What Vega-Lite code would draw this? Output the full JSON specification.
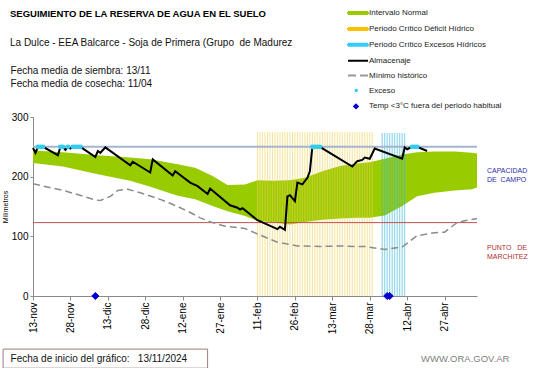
{
  "$schema": "https://vega.github.io/schema/vega-lite/v6.json",
  "width": 444,
  "height": 179,
  "autosize": {"type": "none"},
  "padding": {"left": 33, "top": 117, "right": 64, "bottom": 72},
  "background": "white",
  "config": {"view": {"stroke": null}, "font": "Liberation Sans"},
  "title": {
    "text": "SEGUIMIENTO DE LA RESERVA DE AGUA EN EL SUELO",
    "subtitle": "La Dulce - EEA Balcarce - Soja de Primera (Grupo\u00a0\u00a0de Madurez",
    "anchor": "start",
    "frame": "group",
    "dx": -23,
    "dy": 65,
    "offset": 24,
    "font": "Liberation Sans",
    "fontSize": 9.5,
    "fontWeight": "bold",
    "color": "#000000",
    "subtitleFont": "Liberation Sans",
    "subtitleFontSize": 10,
    "subtitleColor": "#111111",
    "subtitleLineHeight": 13,
    "subtitlePadding": 20
  },
  "datasets": {
    "banda": [
      {"fecha": "2024-11-13", "sup": 244, "inf": 223},
      {"fecha": "2024-11-25", "sup": 241, "inf": 217},
      {"fecha": "2024-12-09", "sup": 236, "inf": 204},
      {"fecha": "2024-12-22", "sup": 232, "inf": 193},
      {"fecha": "2024-12-30", "sup": 229, "inf": 183},
      {"fecha": "2025-01-10", "sup": 221, "inf": 168},
      {"fecha": "2025-01-17", "sup": 215, "inf": 162},
      {"fecha": "2025-01-24", "sup": 201, "inf": 151},
      {"fecha": "2025-01-30", "sup": 186, "inf": 142},
      {"fecha": "2025-02-06", "sup": 187, "inf": 134},
      {"fecha": "2025-02-11", "sup": 194, "inf": 126},
      {"fecha": "2025-02-17", "sup": 193, "inf": 123},
      {"fecha": "2025-02-24", "sup": 194, "inf": 120},
      {"fecha": "2025-03-02", "sup": 198, "inf": 124},
      {"fecha": "2025-03-09", "sup": 209, "inf": 128},
      {"fecha": "2025-03-16", "sup": 218, "inf": 130},
      {"fecha": "2025-03-23", "sup": 222, "inf": 131},
      {"fecha": "2025-03-28", "sup": 224, "inf": 131},
      {"fecha": "2025-04-03", "sup": 230, "inf": 135},
      {"fecha": "2025-04-10", "sup": 237, "inf": 151},
      {"fecha": "2025-04-16", "sup": 241, "inf": 167},
      {"fecha": "2025-04-23", "sup": 242, "inf": 173},
      {"fecha": "2025-05-01", "sup": 242, "inf": 177},
      {"fecha": "2025-05-08", "sup": 240, "inf": 179},
      {"fecha": "2025-05-10", "sup": 239, "inf": 182}
    ],
    "deficit": [
      {"fecha": "2025-02-11"}, {"fecha": "2025-02-12"}, {"fecha": "2025-02-13"}, {"fecha": "2025-02-14"}, {"fecha": "2025-02-15"}, {"fecha": "2025-02-16"}, {"fecha": "2025-02-17"}, {"fecha": "2025-02-18"}, {"fecha": "2025-02-19"}, {"fecha": "2025-02-20"}, {"fecha": "2025-02-21"}, {"fecha": "2025-02-22"}, {"fecha": "2025-02-23"}, {"fecha": "2025-02-24"}, {"fecha": "2025-02-25"}, {"fecha": "2025-02-26"}, {"fecha": "2025-02-27"}, {"fecha": "2025-02-28"},
      {"fecha": "2025-03-01"}, {"fecha": "2025-03-02"}, {"fecha": "2025-03-03"}, {"fecha": "2025-03-04"}, {"fecha": "2025-03-05"}, {"fecha": "2025-03-06"}, {"fecha": "2025-03-07"}, {"fecha": "2025-03-08"}, {"fecha": "2025-03-09"}, {"fecha": "2025-03-10"}, {"fecha": "2025-03-11"}, {"fecha": "2025-03-12"}, {"fecha": "2025-03-13"}, {"fecha": "2025-03-14"}, {"fecha": "2025-03-15"}, {"fecha": "2025-03-16"}, {"fecha": "2025-03-17"}, {"fecha": "2025-03-18"}, {"fecha": "2025-03-19"}, {"fecha": "2025-03-20"}, {"fecha": "2025-03-21"}, {"fecha": "2025-03-22"}, {"fecha": "2025-03-23"}, {"fecha": "2025-03-24"}, {"fecha": "2025-03-25"}, {"fecha": "2025-03-26"}, {"fecha": "2025-03-27"}, {"fecha": "2025-03-28"}, {"fecha": "2025-03-29"}
    ],
    "excesos": [
      {"fecha": "2025-04-02"}, {"fecha": "2025-04-03"}, {"fecha": "2025-04-04"}, {"fecha": "2025-04-05"}, {"fecha": "2025-04-06"}, {"fecha": "2025-04-07"}, {"fecha": "2025-04-08"}, {"fecha": "2025-04-09"}, {"fecha": "2025-04-10"}, {"fecha": "2025-04-11"}
    ],
    "minimo": [
      {"fecha": "2024-11-13", "mm": 188},
      {"fecha": "2024-11-26", "mm": 176},
      {"fecha": "2024-12-08", "mm": 161},
      {"fecha": "2024-12-10", "mm": 160},
      {"fecha": "2024-12-14", "mm": 167},
      {"fecha": "2024-12-17", "mm": 177},
      {"fecha": "2024-12-21", "mm": 179},
      {"fecha": "2024-12-26", "mm": 173},
      {"fecha": "2025-01-03", "mm": 162},
      {"fecha": "2025-01-10", "mm": 150},
      {"fecha": "2025-01-15", "mm": 140},
      {"fecha": "2025-01-19", "mm": 131},
      {"fecha": "2025-01-24", "mm": 123},
      {"fecha": "2025-01-29", "mm": 117},
      {"fecha": "2025-02-06", "mm": 113},
      {"fecha": "2025-02-11", "mm": 104},
      {"fecha": "2025-02-19", "mm": 90},
      {"fecha": "2025-02-27", "mm": 84},
      {"fecha": "2025-03-09", "mm": 83},
      {"fecha": "2025-03-16", "mm": 84},
      {"fecha": "2025-03-23", "mm": 83},
      {"fecha": "2025-03-26", "mm": 83},
      {"fecha": "2025-04-03", "mm": 78},
      {"fecha": "2025-04-10", "mm": 82},
      {"fecha": "2025-04-16", "mm": 101},
      {"fecha": "2025-04-23", "mm": 106},
      {"fecha": "2025-04-27", "mm": 107},
      {"fecha": "2025-05-02", "mm": 123},
      {"fecha": "2025-05-06", "mm": 127},
      {"fecha": "2025-05-10", "mm": 130}
    ],
    "almacenaje": [
      {"fecha": "2024-11-13", "mm": 248},
      {"fecha": "2024-11-14", "mm": 240},
      {"fecha": "2024-11-15", "mm": 250},
      {"fecha": "2024-11-16", "mm": 250},
      {"fecha": "2024-11-17", "mm": 250},
      {"fecha": "2024-11-23", "mm": 236},
      {"fecha": "2024-11-24", "mm": 250},
      {"fecha": "2024-11-25", "mm": 250},
      {"fecha": "2024-11-26", "mm": 245},
      {"fecha": "2024-11-27", "mm": 250},
      {"fecha": "2024-11-28", "mm": 247},
      {"fecha": "2024-11-29", "mm": 250},
      {"fecha": "2024-11-30", "mm": 250},
      {"fecha": "2024-12-01", "mm": 250},
      {"fecha": "2024-12-02", "mm": 250},
      {"fecha": "2024-12-08", "mm": 233},
      {"fecha": "2024-12-09", "mm": 243},
      {"fecha": "2024-12-10", "mm": 240},
      {"fecha": "2024-12-12", "mm": 249},
      {"fecha": "2024-12-22", "mm": 219},
      {"fecha": "2024-12-23", "mm": 225},
      {"fecha": "2024-12-30", "mm": 207},
      {"fecha": "2024-12-31", "mm": 229},
      {"fecha": "2025-01-08", "mm": 202},
      {"fecha": "2025-01-09", "mm": 209},
      {"fecha": "2025-01-15", "mm": 190},
      {"fecha": "2025-01-18", "mm": 184},
      {"fecha": "2025-01-22", "mm": 171},
      {"fecha": "2025-01-23", "mm": 180},
      {"fecha": "2025-01-31", "mm": 152},
      {"fecha": "2025-02-03", "mm": 148},
      {"fecha": "2025-02-04", "mm": 145},
      {"fecha": "2025-02-05", "mm": 147},
      {"fecha": "2025-02-11", "mm": 127},
      {"fecha": "2025-02-19", "mm": 112},
      {"fecha": "2025-02-20", "mm": 116},
      {"fecha": "2025-02-22", "mm": 111},
      {"fecha": "2025-02-23", "mm": 167},
      {"fecha": "2025-02-24", "mm": 169},
      {"fecha": "2025-02-26", "mm": 159},
      {"fecha": "2025-02-27", "mm": 190},
      {"fecha": "2025-03-01", "mm": 187},
      {"fecha": "2025-03-03", "mm": 198},
      {"fecha": "2025-03-04", "mm": 209},
      {"fecha": "2025-03-05", "mm": 250},
      {"fecha": "2025-03-06", "mm": 250},
      {"fecha": "2025-03-07", "mm": 250},
      {"fecha": "2025-03-08", "mm": 250},
      {"fecha": "2025-03-21", "mm": 217},
      {"fecha": "2025-03-23", "mm": 226},
      {"fecha": "2025-03-25", "mm": 228},
      {"fecha": "2025-03-26", "mm": 232},
      {"fecha": "2025-03-28", "mm": 230},
      {"fecha": "2025-03-30", "mm": 247},
      {"fecha": "2025-04-10", "mm": 230},
      {"fecha": "2025-04-11", "mm": 249},
      {"fecha": "2025-04-12", "mm": 246},
      {"fecha": "2025-04-14", "mm": 250},
      {"fecha": "2025-04-15", "mm": 250},
      {"fecha": "2025-04-16", "mm": 250},
      {"fecha": "2025-04-20", "mm": 243}
    ],
    "exceso": [
      {"fecha": "2024-11-15", "mm": 250}, {"fecha": "2024-11-16", "mm": 250}, {"fecha": "2024-11-17", "mm": 250},
      {"fecha": "2024-11-24", "mm": 250}, {"fecha": "2024-11-25", "mm": 250}, {"fecha": "2024-11-27", "mm": 250},
      {"fecha": "2024-11-29", "mm": 250}, {"fecha": "2024-11-30", "mm": 250}, {"fecha": "2024-12-01", "mm": 250}, {"fecha": "2024-12-02", "mm": 250},
      {"fecha": "2025-03-05", "mm": 250}, {"fecha": "2025-03-06", "mm": 250}, {"fecha": "2025-03-07", "mm": 250}, {"fecha": "2025-03-08", "mm": 250},
      {"fecha": "2025-04-14", "mm": 250}, {"fecha": "2025-04-15", "mm": 250}, {"fecha": "2025-04-16", "mm": 250}
    ],
    "helada": [
      {"fecha": "2024-12-08", "mm": 0},
      {"fecha": "2025-04-04", "mm": 0},
      {"fecha": "2025-04-05", "mm": 0}
    ],
    "leyenda": [
      {"serie": "Intervalo Normal"},
      {"serie": "Periodo Crítico Déficit Hídrico"},
      {"serie": "Periodo Crítico Excesos Hídricos"},
      {"serie": "Almacenaje"},
      {"serie": "Mínimo histórico"},
      {"serie": "Exceso"},
      {"serie": "Temp <3°C fuera del periodo habitual"}
    ]
  },
  "layer": [
    {
      "data": {"name": "banda"},
      "mark": {"type": "area", "color": "#99cc00", "opacity": 1},
      "encoding": {
        "x": {
          "field": "fecha", "type": "temporal",
          "scale": {"type": "utc", "domain": [{"year": 2024, "month": 11, "date": 13, "utc": true}, {"year": 2025, "month": 5, "date": 10, "utc": true}]},
          "axis": {
            "title": null, "grid": false,
            "values": [
              {"year": 2024, "month": 11, "date": 13, "utc": true},
              {"year": 2024, "month": 11, "date": 28, "utc": true},
              {"year": 2024, "month": 12, "date": 13, "utc": true},
              {"year": 2024, "month": 12, "date": 28, "utc": true},
              {"year": 2025, "month": 1, "date": 12, "utc": true},
              {"year": 2025, "month": 1, "date": 27, "utc": true},
              {"year": 2025, "month": 2, "date": 11, "utc": true},
              {"year": 2025, "month": 2, "date": 26, "utc": true},
              {"year": 2025, "month": 3, "date": 13, "utc": true},
              {"year": 2025, "month": 3, "date": 28, "utc": true},
              {"year": 2025, "month": 4, "date": 12, "utc": true},
              {"year": 2025, "month": 4, "date": 27, "utc": true}
            ],
            "labelExpr": "utcdate(datum.value) + '-' + ['ene','feb','mar','abr','may','jun','jul','ago','sep','oct','nov','dic'][utcmonth(datum.value)]",
            "labelAngle": 270,
            "labelFont": "Liberation Sans",
            "labelFontSize": 10,
            "labelColor": "#000000",
            "labelPadding": 2,
            "labelFlush": false,
            "labelOverlap": false,
            "domainColor": "#8a8a8a",
            "tickColor": "#8a8a8a",
            "tickSize": 4
          }
        },
        "y": {
          "field": "sup", "type": "quantitative",
          "scale": {"domain": [0, 300], "nice": false},
          "axis": {
            "title": "Milímetros", "titleFontSize": 7, "titleFontWeight": "normal", "titleColor": "#000000", "titleFont": "Liberation Sans", "titlePadding": 3,
            "values": [0, 50, 100, 150, 200, 250, 300],
            "grid": false,
            "labelFont": "Liberation Sans", "labelFontSize": 10, "labelColor": "#000000", "labelPadding": 2,
            "domainColor": "#8a8a8a", "tickColor": "#8a8a8a", "tickSize": 3
          }
        },
        "y2": {"field": "inf"}
      }
    },
    {
      "data": {"name": "deficit"},
      "mark": {"type": "rule", "color": "#ecd050", "opacity": 0.55, "strokeWidth": 1.1},
      "encoding": {
        "x": {"field": "fecha", "type": "temporal"},
        "y": {"datum": 0},
        "y2": {"datum": 275}
      }
    },
    {
      "data": {"name": "excesos"},
      "mark": {"type": "rule", "color": "#3ab8dc", "opacity": 0.6, "strokeWidth": 1.1},
      "encoding": {
        "x": {"field": "fecha", "type": "temporal"},
        "y": {"datum": 0},
        "y2": {"datum": 273}
      }
    },
    {
      "data": {"values": [{"nivel": "Capacidad de campo", "mm": 250}]},
      "mark": {"type": "rule", "color": "#a5b4cf", "strokeWidth": 2},
      "encoding": {"y": {"field": "mm", "type": "quantitative"}}
    },
    {
      "data": {"values": [{"nivel": "Punto de marchitez", "mm": 123}]},
      "mark": {"type": "rule", "color": "#c0504d", "strokeWidth": 1},
      "encoding": {"y": {"field": "mm", "type": "quantitative"}}
    },
    {
      "data": {"name": "minimo"},
      "mark": {"type": "line", "color": "#8c8c8c", "strokeWidth": 1.5, "strokeDash": [7, 4]},
      "encoding": {
        "x": {"field": "fecha", "type": "temporal"},
        "y": {"field": "mm", "type": "quantitative"}
      }
    },
    {
      "data": {"name": "almacenaje"},
      "mark": {"type": "line", "color": "#000000", "strokeWidth": 2},
      "encoding": {
        "x": {"field": "fecha", "type": "temporal"},
        "y": {"field": "mm", "type": "quantitative"}
      }
    },
    {
      "data": {"name": "exceso"},
      "mark": {"type": "circle", "color": "#33ccee", "size": 24, "opacity": 1},
      "encoding": {
        "x": {"field": "fecha", "type": "temporal"},
        "y": {"field": "mm", "type": "quantitative"}
      }
    },
    {
      "data": {"name": "helada"},
      "mark": {"type": "point", "shape": "diamond", "filled": true, "fill": "#0000cc", "stroke": "#0000cc", "strokeWidth": 1, "size": 50, "opacity": 1, "fillOpacity": 1},
      "encoding": {
        "x": {"field": "fecha", "type": "temporal"},
        "y": {"field": "mm", "type": "quantitative"}
      }
    },
    {
      "data": {"name": "leyenda"},
      "mark": {"type": "point", "filled": true, "opacity": 0},
      "encoding": {
        "fill": {
          "field": "serie", "type": "nominal",
          "scale": {"domain": ["Intervalo Normal", "Periodo Crítico Déficit Hídrico", "Periodo Crítico Excesos Hídricos", "Almacenaje", "Mínimo histórico", "Exceso", "Temp <3°C fuera del periodo habitual"],
                    "range": ["#99cc00", "#ffc000", "#33ccff", "#000000", "#999999", "#33ccee", "#0000cc"]},
          "legend": {"title": null, "orient": "none", "legendX": 319, "legendY": -110, "padding": 0, "symbolSize": 100, "symbolStrokeWidth": 2, "symbolOpacity": 1, "labelFont": "Liberation Sans", "labelFontSize": 8, "labelColor": "#222222", "labelOffset": 5, "rowPadding": 4.9, "labelLimit": 300}
        },
        "stroke": {
          "field": "serie", "type": "nominal",
          "scale": {"domain": ["Intervalo Normal", "Periodo Crítico Déficit Hídrico", "Periodo Crítico Excesos Hídricos", "Almacenaje", "Mínimo histórico", "Exceso", "Temp <3°C fuera del periodo habitual"],
                    "range": ["#99cc00", "#ffc000", "#33ccff", "#000000", "#999999", "#33ccee", "#0000cc"]},
          "legend": {"title": null, "orient": "none", "legendX": 319, "legendY": -110}
        },
        "shape": {
          "field": "serie", "type": "nominal",
          "scale": {"domain": ["Intervalo Normal", "Periodo Crítico Déficit Hídrico", "Periodo Crítico Excesos Hídricos", "Almacenaje", "Mínimo histórico", "Exceso", "Temp <3°C fuera del periodo habitual"],
                    "range": ["M-2,-0.2H2V0.2H-2Z", "M-2,-0.2H2V0.2H-2Z", "M-2,-0.2H2V0.2H-2Z", "M-2,0H2", "M-2,0H2", "M-0.5,0A0.15,0.15,0,1,0,-0.2,0A0.15,0.15,0,1,0,-0.5,0Z", "M-0.4,-0.35L-0.05,0L-0.4,0.35L-0.75,0Z"]},
          "legend": {"title": null, "orient": "none", "legendX": 319, "legendY": -110}
        },
        "strokeDash": {
          "field": "serie", "type": "nominal",
          "scale": {"domain": ["Intervalo Normal", "Periodo Crítico Déficit Hídrico", "Periodo Crítico Excesos Hídricos", "Almacenaje", "Mínimo histórico", "Exceso", "Temp <3°C fuera del periodo habitual"],
                    "range": [[1, 0], [1, 0], [1, 0], [1, 0], [8, 4], [1, 0], [1, 0]]},
          "legend": {"title": null, "orient": "none", "legendX": 319, "legendY": -110}
        }
      }
    },
    {
      "data": {"values": [{"etiqueta": "Fecha media de siembra: 13/11\nFecha media de cosecha: 11/04"}]},
      "mark": {"type": "text", "align": "left", "baseline": "middle", "lineBreak": "\n", "lineHeight": 12.5, "font": "Liberation Sans", "fontSize": 10, "color": "#111111"},
      "encoding": {
        "x": {"datum": {"year": 2024, "month": 11, "date": 4, "utc": true}, "type": "temporal"},
        "y": {"datum": 377},
        "text": {"field": "etiqueta"}
      }
    },
    {
      "data": {"values": [{"etiqueta": "CAPACIDAD\nDE\u00a0\u00a0CAMPO"}]},
      "mark": {"type": "text", "align": "left", "baseline": "middle", "lineBreak": "\n", "lineHeight": 9, "font": "Liberation Sans", "fontSize": 7, "color": "#2e2ea8"},
      "encoding": {
        "x": {"datum": {"year": 2025, "month": 5, "date": 14, "utc": true}, "type": "temporal"},
        "y": {"datum": 209},
        "text": {"field": "etiqueta"}
      }
    },
    {
      "data": {"values": [{"etiqueta": "PUNTO\u00a0\u00a0\u00a0DE\nMARCHITEZ"}]},
      "mark": {"type": "text", "align": "left", "baseline": "middle", "lineBreak": "\n", "lineHeight": 9, "font": "Liberation Sans", "fontSize": 7, "color": "#b03030"},
      "encoding": {
        "x": {"datum": {"year": 2025, "month": 5, "date": 14, "utc": true}, "type": "temporal"},
        "y": {"datum": 81},
        "text": {"field": "etiqueta"}
      }
    },
    {
      "data": {"values": [{"marco": "inicio"}]},
      "mark": {"type": "rect", "fill": "#ffffff", "fillOpacity": 0, "stroke": "#9e7b7b", "strokeWidth": 1},
      "encoding": {
        "x": {"datum": {"year": 2024, "month": 11, "date": 1, "utc": true}, "type": "temporal"},
        "x2": {"datum": {"year": 2025, "month": 1, "date": 22, "utc": true}},
        "y": {"datum": -89},
        "y2": {"datum": -121}
      }
    },
    {
      "data": {"values": [{"etiqueta": "Fecha de inicio del gráfico:\u00a0\u00a0\u00a013/11/2024"}]},
      "mark": {"type": "text", "align": "left", "baseline": "middle", "font": "Liberation Sans", "fontSize": 10, "color": "#111111"},
      "encoding": {
        "x": {"datum": {"year": 2024, "month": 11, "date": 4, "utc": true}, "type": "temporal"},
        "y": {"datum": -105},
        "text": {"field": "etiqueta"}
      }
    },
    {
      "data": {"values": [{"etiqueta": "WWW.ORA.GOV.AR"}]},
      "mark": {"type": "text", "align": "right", "baseline": "middle", "font": "Liberation Sans", "fontSize": 9.5, "color": "#7f7f7f"},
      "encoding": {
        "x": {"datum": {"year": 2025, "month": 5, "date": 23, "utc": true}, "type": "temporal"},
        "y": {"datum": -105},
        "text": {"field": "etiqueta"}
      }
    }
  ]
}
